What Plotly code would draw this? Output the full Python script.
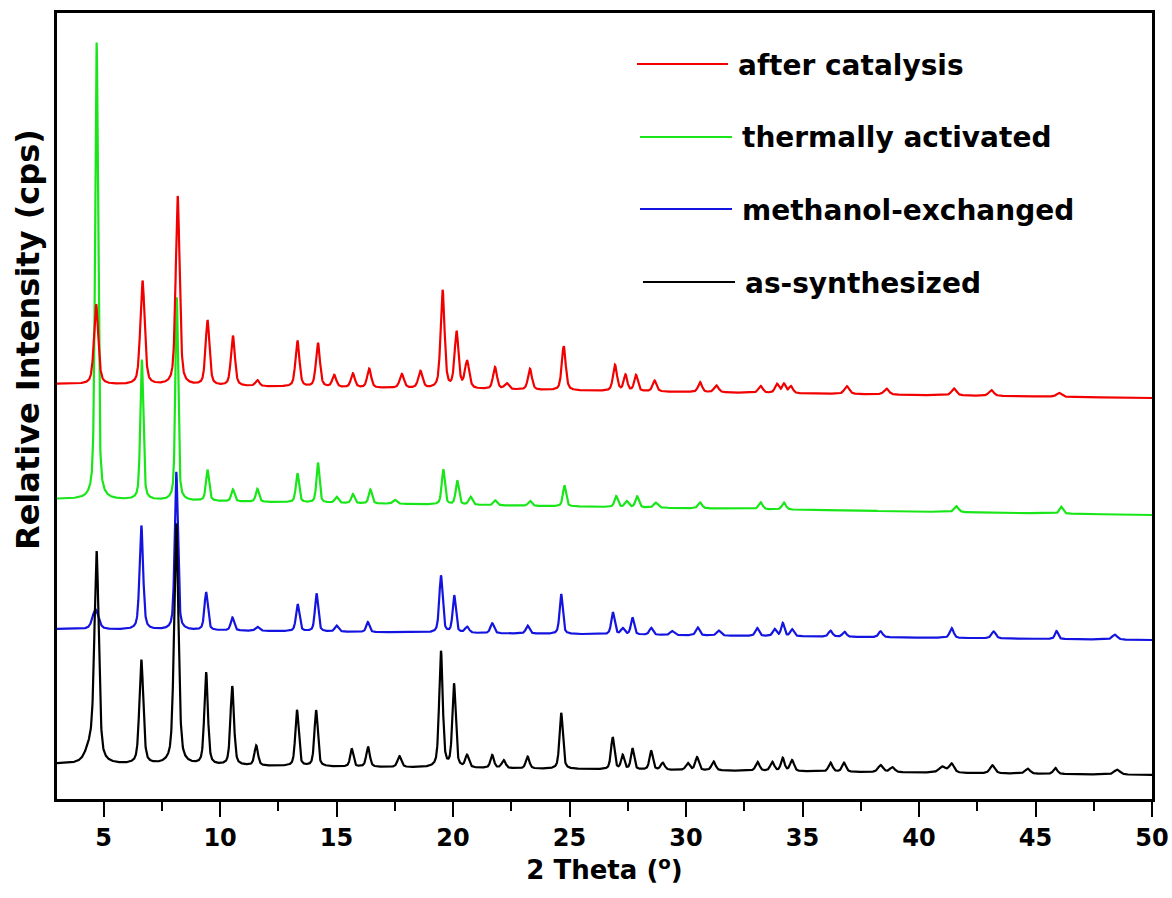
import numpy as np
import plotly.graph_objects as go

# 2-theta grid of the scans (degrees)
two_theta = np.round(np.arange(3.0, 50.0001, 0.01), 2)

# Reflections of each pattern: position (deg 2θ), height above background, FWHM (deg)
# Background is given at the start and the end of the scan; patterns are stacked with offsets.

as_syn_pos = [4.45, 4.70, 6.62, 8.12, 9.40, 10.52, 11.55, 13.30, 14.12, 15.65, 16.35, 17.70,
              19.48, 20.04, 20.60, 21.68, 22.17, 23.20, 24.64, 26.85, 27.28, 27.70, 28.50,
              29.00, 30.07, 30.47, 31.18, 33.07, 33.70, 34.15, 34.55, 36.20, 36.78, 38.35,
              38.85, 41.00, 41.40, 43.15, 44.66, 45.85, 48.50]
as_syn_height = [16, 205, 104, 241, 92, 79, 20, 56, 56, 18, 20, 11,
                 116, 83, 12, 13, 8, 12, 56, 32, 14, 21, 19,
                 7, 7, 13, 9, 9, 9, 13, 11, 9, 9, 7,
                 5, 6, 9, 8, 5, 6, 5]
as_syn_fwhm = [0.50, 0.22, 0.20, 0.22, 0.18, 0.18, 0.18, 0.17, 0.17, 0.16, 0.18, 0.20,
               0.18, 0.17, 0.18, 0.18, 0.20, 0.18, 0.17, 0.17, 0.16, 0.16, 0.17,
               0.20, 0.20, 0.18, 0.20, 0.20, 0.20, 0.18, 0.20, 0.20, 0.20, 0.25,
               0.25, 0.35, 0.25, 0.25, 0.25, 0.20, 0.30]
as_syn_background = [35, 24]

meoh_pos = [4.65, 6.62, 8.12, 9.40, 10.53, 11.60, 13.33, 14.14, 15.00, 16.34, 19.48, 20.05,
            20.60, 21.68, 23.20, 24.64, 26.86, 27.28, 27.70, 28.50, 29.40, 30.50, 31.40,
            33.05, 33.80, 34.15, 34.55, 36.20, 36.80, 38.35, 41.40, 43.20, 45.90, 48.40]
meoh_height = [20, 104, 158, 38, 13, 4, 27, 38, 6, 10, 57, 37,
               6, 10, 8, 40, 22, 6, 17, 7, 4, 8, 5,
               8, 7, 13, 7, 6, 5, 6, 10, 7, 8, 5]
meoh_fwhm = [0.30, 0.18, 0.16, 0.17, 0.17, 0.20, 0.17, 0.16, 0.18, 0.16, 0.17, 0.16,
             0.20, 0.18, 0.18, 0.16, 0.17, 0.18, 0.16, 0.18, 0.20, 0.18, 0.20,
             0.18, 0.18, 0.16, 0.18, 0.20, 0.20, 0.20, 0.20, 0.22, 0.16, 0.25]
meoh_background = [170, 159]

thermal_pos = [4.70, 6.64, 8.14, 9.46, 10.55, 11.60, 13.32, 14.20, 15.00, 15.70, 16.45, 17.50,
               19.58, 20.18, 20.75, 21.80, 23.30, 24.78, 27.00, 27.45, 27.90, 28.70, 30.60,
               33.20, 34.20, 41.60, 46.10]
thermal_height = [457, 140, 203, 31, 12, 13, 29, 40, 6, 9, 14, 4,
                  35, 24, 8, 5, 5, 21, 11, 6, 11, 5, 6,
                  7, 7, 6, 7]
thermal_fwhm = [0.15, 0.15, 0.14, 0.16, 0.16, 0.16, 0.16, 0.15, 0.18, 0.16, 0.16, 0.20,
                0.16, 0.16, 0.18, 0.18, 0.18, 0.16, 0.17, 0.18, 0.17, 0.20, 0.20,
                0.20, 0.20, 0.22, 0.18]
thermal_background = [300, 284]

catal_pos = [4.68, 6.67, 8.18, 9.46, 10.55, 11.60, 13.32, 14.20, 14.90, 15.70, 16.40, 17.80,
             18.60, 19.55, 20.15, 20.60, 21.80, 22.30, 23.30, 24.75, 26.95, 27.40, 27.85,
             28.65, 30.60, 31.30, 33.20, 33.90, 34.20, 34.50, 36.90, 38.60, 41.50, 43.10, 46.00]
catal_height = [80, 104, 189, 65, 50, 6, 46, 44, 12, 14, 19, 14,
                17, 98, 56, 27, 22, 6, 21, 44, 26, 16, 16,
                11, 10, 7, 7, 9, 9, 7, 8, 6, 7, 6, 4]
catal_fwhm = [0.22, 0.22, 0.20, 0.20, 0.20, 0.20, 0.20, 0.20, 0.20, 0.20, 0.20, 0.22,
              0.22, 0.20, 0.20, 0.22, 0.20, 0.22, 0.20, 0.20, 0.20, 0.18, 0.18,
              0.20, 0.20, 0.22, 0.22, 0.20, 0.18, 0.20, 0.25, 0.25, 0.25, 0.25, 0.25]
catal_background = [415, 401]

series_names = ["after catalysis", "thermally activated", "methanol-exchanged", "as-synthesized"]
series_colors = ["#f20000", "#19e619", "#1414e0", "#000000"]


def pattern(pos, height, fwhm, background, eta=0.5):
    """Pseudo-Voigt reflections on a sloping background."""
    x = two_theta
    y = background[0] + (background[1] - background[0]) * (x - x[0]) / (x[-1] - x[0])
    for c, h, w in zip(pos, height, fwhm):
        u = (x - c) / (w / 2.0)
        y = y + h * (eta / (1.0 + u ** 2) + (1.0 - eta) * np.exp(-np.log(2.0) * u ** 2))
    return y


profiles = {
    "after catalysis": pattern(catal_pos, catal_height, catal_fwhm, catal_background),
    "thermally activated": pattern(thermal_pos, thermal_height, thermal_fwhm, thermal_background),
    "methanol-exchanged": pattern(meoh_pos, meoh_height, meoh_fwhm, meoh_background),
    "as-synthesized": pattern(as_syn_pos, as_syn_height, as_syn_fwhm, as_syn_background),
}
color_of = dict(zip(series_names, series_colors))

FONT = "DejaVu Sans"
W, H = 1172, 898
ML, MR, MT, MB = 57, 20, 13, 99

fig = go.Figure()
# drawing order: green under red, blue under black
for name in ["thermally activated", "after catalysis", "methanol-exchanged", "as-synthesized"]:
    fig.add_trace(go.Scatter(
        x=two_theta, y=profiles[name], mode="lines", name=name,
        line=dict(color=color_of[name], width=2.2), showlegend=False,
    ))


def px_to_paper(px, py):
    return (px - ML) / (W - ML - MR), (H - MB - py) / (H - MT - MB)


# hand-placed key with long line samples
key_rows = [(64, 637, 728), (137, 640, 732), (209, 640, 732), (282, 643, 735)]
for name, (py, x0, x1) in zip(series_names, key_rows):
    a0, b0 = px_to_paper(x0, py)
    a1, _ = px_to_paper(x1, py)
    fig.add_shape(type="line", xref="paper", yref="paper", x0=a0, x1=a1, y0=b0, y1=b0,
                  line=dict(color=color_of[name], width=2))
    tx, ty = px_to_paper(x1 + 8, py + 1)
    fig.add_annotation(xref="paper", yref="paper", x=tx, y=ty, text=name, showarrow=False,
                       xanchor="left", yanchor="middle",
                       font=dict(family=FONT, size=28, color="black", weight="bold"))

# vertical axis caption, centred on the stacked patterns
cx, cy = px_to_paper(28, 340)
fig.add_annotation(xref="paper", yref="paper", x=cx, y=cy, text="Relative Intensity (cps)",
                   textangle=-90, showarrow=False, xanchor="center", yanchor="middle",
                   font=dict(family=FONT, size=32, color="black", weight="bold"))

fig.update_layout(
    width=W, height=H,
    margin=dict(l=ML, r=MR, t=MT, b=MB, autoexpand=False),
    paper_bgcolor="white", plot_bgcolor="white",
    font=dict(family=FONT, color="black"),
    xaxis=dict(
        range=[3, 50], showgrid=False, zeroline=False, automargin=False,
        showline=True, linecolor="black", linewidth=2.5, mirror=True,
        tickmode="array", tickvals=[5, 10, 15, 20, 25, 30, 35, 40, 45, 50],
        ticks="outside", ticklen=15, tickwidth=2, tickcolor="black",
        tickfont=dict(family=FONT, size=24, color="black", weight="bold"),
        minor=dict(tickvals=[7.5, 12.5, 17.5, 22.5, 27.5, 32.5, 37.5, 42.5, 47.5],
                   ticks="outside", ticklen=9, tickwidth=2, tickcolor="black"),
        title=dict(text="2 Theta (<sup>o</sup>)", standoff=0,
                   font=dict(family=FONT, size=26, color="black", weight="bold")),
    ),
    yaxis=dict(
        range=[0, 786], showgrid=False, zeroline=False, automargin=False,
        showline=True, linecolor="black", linewidth=2.5, mirror=True,
        showticklabels=False, ticks="",
    ),
)

fig.write_html("out.html")
